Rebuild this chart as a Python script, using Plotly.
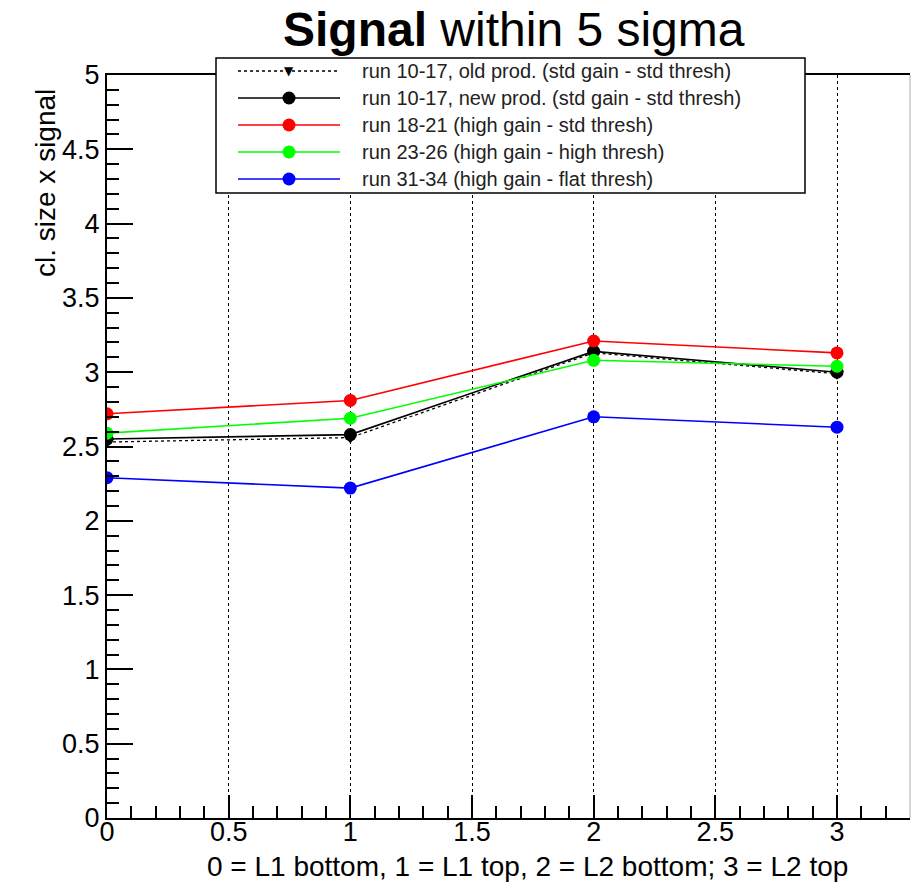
import plotly.graph_objects as go

# ---- data ----
positions = [0, 1, 2, 3]
old_prod = [2.53, 2.56, 3.13, 2.99]
new_prod = [2.55, 2.58, 3.14, 3.00]
high_gain_std = [2.72, 2.81, 3.21, 3.13]
high_gain_high = [2.59, 2.69, 3.08, 3.04]
high_gain_flat = [2.29, 2.22, 2.70, 2.63]

legend_labels = [
    "run 10-17, old prod. (std gain - std thresh)",
    "run 10-17, new prod. (std gain - std thresh)",
    "run 18-21 (high gain - std thresh)",
    "run 23-26 (high gain - high thresh)",
    "run 31-34 (high gain - flat thresh)",
]
colors = ["black", "black", "#ff0000", "#00ff00", "#0000ff"]

title_bold = "Signal"
title_rest = " within 5 sigma"
x_title = "0 = L1 bottom, 1 = L1 top, 2 = L2 bottom; 3 = L2 top"
y_title = "cl. size x signal"

W, H = 911, 882
L, R, T, B = 107, 1, 75, 64
PW, PH = W - L - R, H - T - B
FONT = "Liberation Sans, Arial, sans-serif"


def px(X):
    return (X - L) / PW


def py(Y):
    return (H - B - Y) / PH


fig = go.Figure()

fig.add_trace(go.Scatter(
    x=positions, y=old_prod, mode="lines+markers",
    line=dict(color="black", width=1.3, dash="dot"),
    marker=dict(symbol="triangle-down", size=12, color="black"),
    showlegend=False))
series = [new_prod, high_gain_std, high_gain_high, high_gain_flat]
for vals, c in zip(series, colors[1:]):
    fig.add_trace(go.Scatter(
        x=positions, y=vals, mode="lines+markers",
        line=dict(color=c, width=1.6),
        marker=dict(symbol="circle", size=13, color=c),
        showlegend=False))

shapes = []
# right frame edge (light grey)
shapes.append(dict(type="line", xref="paper", yref="paper", x0=1, x1=1, y0=0, y1=1,
                   line=dict(color="#c8c8c8", width=1.5), layer="above"))
# legend box
shapes.append(dict(type="rect", xref="paper", yref="paper",
                   x0=px(216), x1=px(805), y0=py(193), y1=py(58),
                   fillcolor="white", line=dict(color="black", width=1.5), layer="above"))
entry_y = [71, 98, 125, 152, 179]
annotations = []
for i, (lab, c, ey) in enumerate(zip(legend_labels, colors, entry_y)):
    shapes.append(dict(type="line", xref="paper", yref="paper",
                       x0=px(238), x1=px(340), y0=py(ey), y1=py(ey),
                       line=dict(color=c, width=1.6, dash="dot" if i == 0 else "solid"),
                       layer="above"))
    if i == 0:
        annotations.append(dict(x=px(289), y=py(ey), xref="paper", yref="paper",
                                text="▼", showarrow=False, xanchor="center", yanchor="middle",
                                font=dict(family="DejaVu Sans", size=12, color="black")))
    else:
        shapes.append(dict(type="circle", xref="paper", yref="paper",
                           xsizemode="pixel", ysizemode="pixel",
                           xanchor=px(289), yanchor=py(ey),
                           x0=-6.5, x1=6.5, y0=-6.5, y1=6.5,
                           fillcolor=c, line=dict(width=0), layer="above"))
    annotations.append(dict(x=px(360), y=py(ey), xref="paper", yref="paper",
                            text=lab, showarrow=False, xanchor="left", yanchor="middle",
                            font=dict(family=FONT, size=20, color="#222222")))

# title
annotations.append(dict(x=px(514), y=py(30), xref="paper", yref="paper",
                        text=f"<b>{title_bold}</b>{title_rest}", showarrow=False,
                        xanchor="center", yanchor="middle",
                        font=dict(family=FONT, size=48, color="black")))
# axis titles
annotations.append(dict(x=px(527), y=py(866), xref="paper", yref="paper",
                        text=x_title, showarrow=False, xanchor="center", yanchor="middle",
                        font=dict(family=FONT, size=28, color="black")))
annotations.append(dict(x=px(45), y=py(183), xref="paper", yref="paper",
                        text=y_title, showarrow=False, textangle=-90,
                        xanchor="center", yanchor="middle",
                        font=dict(family=FONT, size=28, color="black")))

fig.update_layout(
    width=W, height=H,
    margin=dict(l=L, r=R, t=T, b=B),
    paper_bgcolor="white", plot_bgcolor="white",
    showlegend=False,
    shapes=shapes, annotations=annotations,
    font=dict(family=FONT, color="black"),
)
fig.update_xaxes(
    range=[0, 3.3], tick0=0, dtick=0.5, ticks="inside", ticklen=23, tickwidth=1.5,
    tickcolor="black", tickfont=dict(family=FONT, size=27, color="black"),
    ticklabelstandoff=-11,
    showline=True, linecolor="black", linewidth=2, mirror=True,
    showgrid=True, gridcolor="black", griddash="dot", gridwidth=1,
    zeroline=False,
    minor=dict(dtick=0.1, tick0=0, ticks="inside", ticklen=12, tickwidth=1.5,
               tickcolor="black", showgrid=False),
)
fig.update_yaxes(
    range=[0, 5], tick0=0, dtick=0.5, ticks="inside", ticklen=26, tickwidth=1.5,
    tickcolor="black", tickfont=dict(family=FONT, size=27, color="black"),
    showline=True, linecolor="black", linewidth=2,
    showgrid=False, zeroline=False,
    minor=dict(dtick=0.1, tick0=0, ticks="inside", ticklen=12, tickwidth=1.5,
               tickcolor="black", showgrid=False),
)

fig.write_html("out.html")
